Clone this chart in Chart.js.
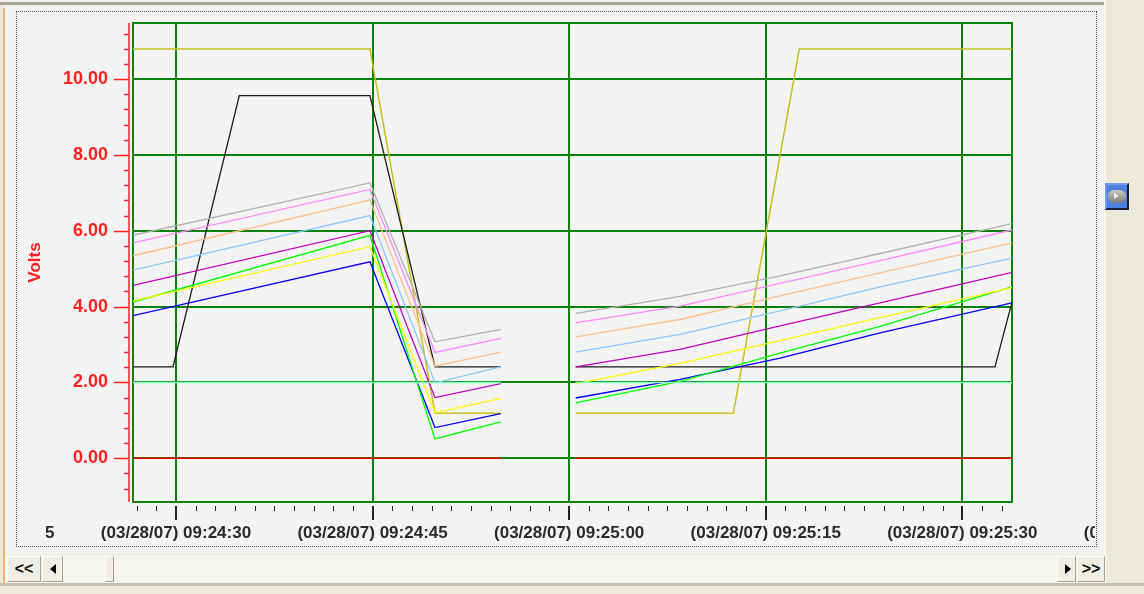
<!DOCTYPE html>
<html>
<head>
<meta charset="utf-8">
<title>Volts</title>
<script src="https://cdn.jsdelivr.net/npm/chart.js@4.4.1/dist/chart.umd.min.js"></script>
<style>
  body { margin: 0; width: 1144px; height: 594px; overflow: hidden; position: relative;
         background: #ece9d8; font-family: "Liberation Sans", Arial, sans-serif; }
  #topline { position: absolute; left: 0; top: 0; width: 1104px; height: 2px; background: #f3f3f3; }
  #topbar { position: absolute; left: 0; top: 2px; width: 1104px; height: 3px; background: #a9a698; }
  #panel { position: absolute; left: 5px; top: 5px; width: 1099px; height: 549px; background: #f4f4f4; }
  #edge { position: absolute; left: 3px; top: 8px; width: 2px; height: 576px; background: #f2b072; }
  #frame { position: absolute; left: 16px; top: 11px; width: 1081px; height: 536px;
           box-sizing: border-box; border: 1px dotted #555; }
  #chart { position: absolute; left: 17px; top: 12px; }
  #scroll { position: absolute; left: 5px; top: 555px; width: 1100px; height: 28px;
            background-color: #f6f5ef;
            background-image: radial-gradient(#e4e2d8 0.6px, transparent 0.7px);
            background-size: 2px 2px; }
  .btn { position: absolute; top: 1px; height: 26px; box-sizing: border-box;
         background: #f1efe5; border-top: 1px solid #fff; border-left: 1px solid #fff;
         border-right: 1px solid #a5a294; border-bottom: 1px solid #a5a294;
         font-weight: bold; font-size: 16px; line-height: 24px; text-align: center; color: #111; }
  .tri-left { position: absolute; left: 7px; top: 7px; border-top: 5px solid transparent;
              border-bottom: 5px solid transparent; border-right: 6px solid #000; }
  .tri-right { position: absolute; left: 7px; top: 7px; border-top: 5px solid transparent;
               border-bottom: 5px solid transparent; border-left: 6px solid #000; }
  #bottombar { position: absolute; left: 0; top: 583px; width: 1144px; height: 3px; background: #c4c1b2; }
  #sidelight { position: absolute; left: 1104px; top: 0; width: 2px; height: 586px; background: #f8f7f1; }
  #playbtn { position: absolute; left: 1105px; top: 183px; width: 24px; height: 27px; box-sizing: border-box;
             background: #4f7fe0; border: 2px solid #6f9af0; border-right-color: #152038; border-bottom-color: #152038; }
  #playbtn div { position: absolute; left: 1px; top: 5px; width: 18px; height: 13px; border-radius: 6px;
                 background: linear-gradient(#c8c8c8, #7c7c7c); }
  #playbtn span { position: absolute; left: 6px; top: 3px; border-top: 3px solid transparent;
                  border-bottom: 3px solid transparent; border-left: 5px solid #eee; }
</style>
</head>
<body>
<div id="topline"></div>
<div id="topbar"></div>
<div id="panel"></div>
<div id="edge"></div>
<div id="sidelight"></div>
<div id="frame"></div>
<canvas id="chart" width="1078" height="533"></canvas>
<div id="scroll">
  <div class="btn" style="left:2px;width:34px">&lt;&lt;</div>
  <div class="btn" style="left:37px;width:21px"><span class="tri-left"></span></div>
  <div class="btn" style="left:100px;width:9px"></div>
  <div class="btn" style="left:1052px;width:19px"><span class="tri-right"></span></div>
  <div class="btn" style="left:1072px;width:28px">&gt;&gt;</div>
</div>
<div id="bottombar"></div>
<div id="playbtn"><div><span></span></div></div>

<script>
// time is in seconds after 09:24:00 on 03/28/07
const X_MIN = 26.72;
const X_MAX = 93.79;
const Y_MIN = -1.152;
const Y_MAX = 11.477;

// major time ticks and their labels (15 and 105 fall outside the window, only their edges show)
const majorTimes = [15, 30, 45, 60, 75, 90, 105];
const majorLabels = [
    "(03/28/07) 09:24:15", "(03/28/07) 09:24:30", "(03/28/07) 09:24:45", "(03/28/07) 09:25:00",
    "(03/28/07) 09:25:15", "(03/28/07) 09:25:30", "(03/28/07) 09:25:45"
];

// the eight ramping channels share the same sample times (57.6 = gap in the recording)
const rampTimes = [26.72, 44.8, 49.76, 54.78, 57.6, 60.5, 68.46, 76.09, 83.72, 93.79];
const grayVolts    = [5.88, 7.26, 3.07, 3.40, null, 3.82, 4.27, 4.81, 5.40, 6.19];
const pinkVolts    = [5.68, 7.09, 2.79, 3.16, null, 3.57, 4.01, 4.61, 5.21, 6.02];
const peachVolts   = [5.34, 6.81, 2.43, 2.80, null, 3.20, 3.66, 4.28, 4.89, 5.68];
const skyVolts     = [4.96, 6.40, 1.99, 2.41, null, 2.80, 3.27, 3.89, 4.52, 5.28];
const magentaVolts = [4.56, 6.00, 1.60, 1.97, null, 2.41, 2.87, 3.49, 4.10, 4.90];
const yellowVolts  = [4.15, 5.58, 1.20, 1.58, null, 1.97, 2.50, 3.10, 3.71, 4.50];
const greenVolts   = [4.12, 5.88, 0.51, 0.96, null, 1.46, 2.03, 2.77, 3.48, 4.52];
const blueVolts    = [3.76, 5.18, 0.81, 1.18, null, 1.59, 2.08, 2.64, 3.31, 4.10];

// black channel
const blackTimes = [26.72, 29.77, 34.83, 44.8, 49.76, 54.78, 57.6, 60.5, 92.49, 93.79];
const blackVolts = [2.41, 2.41, 9.56, 9.56, 2.41, 2.41, null, 2.41, 2.41, 4.12];

// olive channel
const oliveTimes = [26.72, 44.8, 49.76, 54.78, 57.6, 60.5, 72.53, 77.56, 93.79];
const oliveVolts = [10.79, 10.79, 1.19, 1.19, null, 1.19, 1.19, 10.79, 10.79];

// constant reference channels
const levelTimes = [26.72, 54.78, 57.6, 60.5, 93.79];
const zeroVolts = [0, 0, null, 0, 0];
const twoVolts  = [2, 2, null, 2, 2];

const GRID_GREEN = "#0a820a";
const AXIS_RED = "#ff2020";
const LABEL_DARK = "#2a2a2a";
const X_FONT = { family: "'Liberation Sans', Arial, sans-serif", size: 17, weight: "bold", lineHeight: 1.2 };
const X_PAD = 21;

function toPoints(times, values) {
    return times.map((t, i) => ({ x: t, y: values[i] }));
}

function line(label, times, values, color, width) {
    return {
        label: label,
        data: toPoints(times, values),
        borderColor: color,
        borderWidth: width || 1.3,
        pointRadius: 0,
        tension: 0,
        spanGaps: false,
        fill: false
    };
}

function isMajorTime(v) { return Math.abs(v % 15) < 1e-6; }
function isMajorVolt(v) { return Math.abs(v / 2 - Math.round(v / 2)) < 1e-6; }

// green plot box, red value axis with ticks, time ticks, clipped outer labels
const plotDecor = {
    id: "plotDecor",
    beforeDatasetsDraw(chart) {
        const { ctx, chartArea: a, scales: { x, y } } = chart;
        ctx.save();
        ctx.strokeStyle = GRID_GREEN;
        ctx.lineWidth = 2;
        ctx.strokeRect(a.left, a.top, a.right - a.left, a.bottom - a.top);

        // value axis: red line left of the plot box
        const ax = a.left - 4;
        ctx.strokeStyle = AXIS_RED;
        ctx.lineWidth = 1.5;
        ctx.beginPath();
        ctx.moveTo(ax, a.top);
        ctx.lineTo(ax, a.bottom);
        ctx.stroke();
        y.ticks.forEach(t => {
            const py = Math.round(y.getPixelForValue(t.value)) + 0.5;
            const len = isMajorVolt(t.value) ? 15 : 5;
            ctx.beginPath();
            ctx.moveTo(ax - len, py);
            ctx.lineTo(ax, py);
            ctx.stroke();
        });

        // time ticks under the box
        ctx.strokeStyle = "#222";
        x.ticks.forEach(t => {
            const major = isMajorTime(t.value);
            const px = Math.round(x.getPixelForValue(t.value)) + (major ? 0 : 0.5);
            ctx.lineWidth = major ? 2 : 1;
            ctx.beginPath();
            ctx.moveTo(px, a.bottom + 4);
            ctx.lineTo(px, a.bottom + (major ? 18 : 9));
            ctx.stroke();
        });
        ctx.restore();
    },
    afterDraw(chart) {
        const { ctx, chartArea: a, scales: { x } } = chart;
        ctx.save();
        ctx.beginPath();
        ctx.rect(28.5, 0, chart.width - 28.5, chart.height);
        ctx.clip();
        ctx.font = `bold ${X_FONT.size}px ${X_FONT.family}`;
        ctx.fillStyle = LABEL_DARK;
        ctx.textAlign = "center";
        ctx.textBaseline = "middle";
        majorTimes.forEach((t, i) => {
            if (t >= X_MIN && t <= X_MAX) return;  // in-range labels come from the scale
            ctx.fillText(majorLabels[i], x.getPixelForValue(t), a.bottom + X_PAD + X_FONT.size * X_FONT.lineHeight / 2);
        });
        ctx.restore();
    }
};

const ctx = document.getElementById("chart").getContext("2d");
const chart = new Chart(ctx, {
    type: "line",
    data: {
        datasets: [
            line("0 V", levelTimes, zeroVolts, "#ff0000", 1.5),
            line("2 V", levelTimes, twoVolts, "#80ffc0", 1.5),
            line("Ch 1", rampTimes, grayVolts, "#b2b2b2"),
            line("Ch 2", rampTimes, pinkVolts, "#ff88ff"),
            line("Ch 3", rampTimes, peachVolts, "#ffc08c"),
            line("Ch 4", rampTimes, skyVolts, "#8cc8ff"),
            line("Ch 5", rampTimes, magentaVolts, "#c000c0"),
            line("Ch 6", rampTimes, yellowVolts, "#ffff00"),
            line("Ch 7", rampTimes, greenVolts, "#00ff00"),
            line("Ch 8", rampTimes, blueVolts, "#0000ff"),
            line("Ch 9", blackTimes, blackVolts, "#1a1a1a"),
            line("Ch 10", oliveTimes, oliveVolts, "#c8c020", 1.5)
        ]
    },
    options: {
        responsive: false,
        animation: false,
        layout: { padding: { left: 0, right: 83, top: 11, bottom: 0 } },
        plugins: { legend: { display: false }, tooltip: { enabled: false } },
        scales: {
            x: {
                type: "linear",
                min: X_MIN,
                max: X_MAX,
                afterBuildTicks: scale => {
                    const ticks = [];
                    for (let k = Math.ceil(X_MIN / 1.5); k * 1.5 <= X_MAX; k++) ticks.push({ value: k * 1.5 });
                    scale.ticks = ticks;
                },
                afterFit: scale => { scale.height = 43; },
                border: { display: false },
                grid: {
                    drawTicks: false,
                    lineWidth: 2,
                    color: c => (c.tick && isMajorTime(c.tick.value)) ? GRID_GREEN : "rgba(0,0,0,0)"
                },
                ticks: {
                    autoSkip: false,
                    maxRotation: 0,
                    minRotation: 0,
                    padding: X_PAD,
                    color: LABEL_DARK,
                    font: X_FONT,
                    callback: v => {
                        const i = majorTimes.findIndex(t => Math.abs(t - v) < 1e-6);
                        return i >= 0 ? majorLabels[i] : "";
                    }
                }
            },
            y: {
                type: "linear",
                min: Y_MIN,
                max: Y_MAX,
                afterBuildTicks: scale => {
                    const ticks = [];
                    for (let k = -2; k <= 28; k++) ticks.push({ value: k * 4 / 10 });
                    scale.ticks = ticks;
                },
                afterFit: scale => { scale.width = 116; },
                border: { display: false },
                grid: {
                    drawTicks: true,
                    tickLength: 25,             // invisible, only pushes the labels left
                    tickColor: "rgba(0,0,0,0)",
                    lineWidth: 2,
                    color: c => (c.tick && isMajorVolt(c.tick.value)) ? GRID_GREEN : "rgba(0,0,0,0)"
                },
                title: {
                    display: true,
                    text: "Volts",
                    color: AXIS_RED,
                    padding: { top: 8, bottom: 0 },
                    font: { family: "'Liberation Sans', Arial, sans-serif", size: 17, weight: "bold" }
                },
                ticks: {
                    autoSkip: false,
                    padding: 0,
                    color: AXIS_RED,
                    font: { family: "'Liberation Sans', Arial, sans-serif", size: 18, weight: "bold", lineHeight: 1 },
                    callback: v => isMajorVolt(v) ? v.toFixed(2) : ""
                }
            }
        }
    },
    plugins: [plotDecor]
});
</script>
</body>
</html>
